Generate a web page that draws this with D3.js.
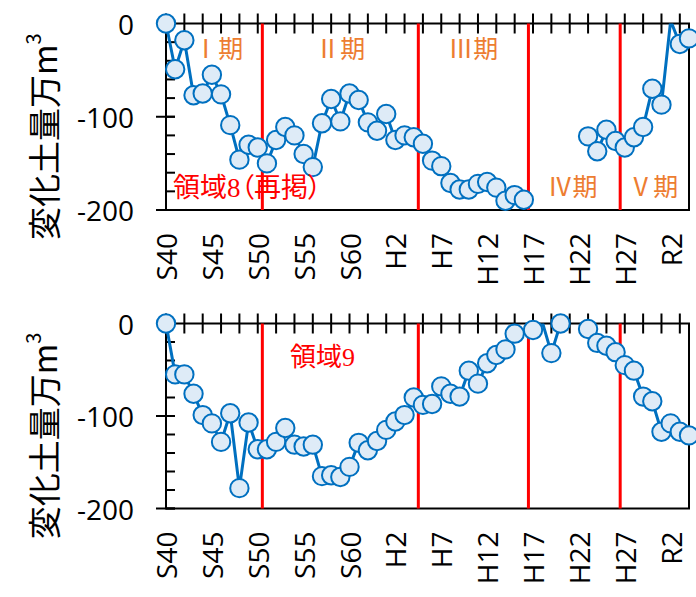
<!DOCTYPE html>
<html>
<head>
<meta charset="utf-8">
<script src="https://cdn.jsdelivr.net/npm/d3@7"></script>
<style>
body { margin: 0; background: #fff; }
text { font-family: "Open Sans", sans-serif; }
.jp { font-family: "Noto Sans CJK JP", sans-serif; font-feature-settings: "palt"; }
.mincho { font-family: "Liberation Serif", "Noto Sans CJK JP", serif; font-feature-settings: "palt"; }
</style>
</head>
<body>
<svg id="chart" width="696" height="597"></svg>
<script>
// years 1965 (S40) .. 2022 (R4)
const years = [1965,1966,1967,1968,1969,1970,1971,1972,1973,1974,
               1975,1976,1977,1978,1979,1980,1981,1982,1983,1984,
               1985,1986,1987,1988,1989,1990,1991,1992,1993,1994,
               1995,1996,1997,1998,1999,2000,2001,2002,2003,2004,
               2005,2006,2007,2008,2009,2010,2011,2012,2013,2014,
               2015,2016,2017,2018,2019,2020,2021,2022];

const labelYears = [1965,1970,1975,1980,1985,1990,1995,2000,2005,2010,2015,2020];
const labelNames = ["S40","S45","S50","S55","S60","H2","H7","H12","H17","H22","H27","R2"];

const periodBounds = [1975.5, 1992.5, 2004.5, 2014.5];
const periodNames = ["Ⅰ期","Ⅱ期","Ⅲ期","Ⅳ期","Ⅴ期"];

const yTicks = [0, -100, -200];

// 領域8 (再掲)
const area8 = [0,-49,-18,-77,-75,-55,-76,-109,-146,-130,
               -133,-150,-125,-111,-120,-140,-154,-107,-81,-105,
               -75,-82,-106,-115,-97,-125,-120,-122,-129,-147,
               -153,-171,-178,-178,-172,-170,-176,-190,-184,-189,
               null,null,null,null,null,null,-121,-137,-114,-126,
               -133,-122,-111,-70,-87,3,-22,-16];

// 領域9
const area9 = [0,-55,-55,-76,-99,-108,-128,-97,-178,-107,
               -136,-136,-128,-113,-131,-133,-131,-165,-164,-166,
               -155,-129,-137,-127,-115,-106,-99,-80,-88,-87,
               -68,-76,-79,-51,-65,-43,-34,-28,-11,null,
               -7,2,-32,0,null,null,-6,-21,-24,-31,
               -45,-51,-79,-84,-117,-108,-117,-121];

const blue = "#0070C0";
const orange = "#ED7D31";

const svg = d3.select("#chart");
const x = d3.scaleLinear().domain([1965, 2022]).range([166, 689]);

function panel(id, top, bottom, values) {
    const y = d3.scaleLinear().domain([-200, 0]).range([bottom, top]);
    const g = svg.append("g");

    g.append("clipPath").attr("id", "clip" + id)
        .append("rect")
        .attr("x", x.range()[0]).attr("y", top)
        .attr("width", x.range()[1] - x.range()[0]).attr("height", bottom - top);

    // frame
    g.append("rect")
        .attr("x", x.range()[0]).attr("y", top)
        .attr("width", x.range()[1] - x.range()[0]).attr("height", bottom - top)
        .attr("fill", "none").attr("stroke", "#000").attr("stroke-width", 2);

    // period boundaries
    g.selectAll(".bound").data(periodBounds).enter()
        .append("line")
        .attr("x1", d => x(d)).attr("x2", d => x(d))
        .attr("y1", top).attr("y2", bottom)
        .attr("stroke", "#FF0000").attr("stroke-width", 3);

    // y ticks
    g.selectAll(".minor").data(y.ticks(10)).enter()
        .append("line")
        .attr("x1", x.range()[0]).attr("x2", x.range()[0] + 9)
        .attr("y1", d => y(d)).attr("y2", d => y(d))
        .attr("stroke", "#000").attr("stroke-width", 2);
    g.selectAll(".major").data(yTicks).enter()
        .append("line")
        .attr("x1", x.range()[0] - 10).attr("x2", x.range()[0] + 9)
        .attr("y1", d => y(d)).attr("y2", d => y(d))
        .attr("stroke", "#000").attr("stroke-width", 2);
    g.selectAll(".ylab").data(yTicks).enter()
        .append("text")
        .attr("x", 134).attr("y", d => y(d))
        .attr("text-anchor", "end").attr("dominant-baseline", "central")
        .attr("font-size", 28)
        .text(d => d);

    // x ticks (every 2 years) crossing the 0 line
    g.selectAll(".xtick").data(years.filter(d => (d - 1965) % 2 == 0)).enter()
        .append("line")
        .attr("x1", d => x(d)).attr("x2", d => x(d))
        .attr("y1", y(0) - 10).attr("y2", y(0) + 10)
        .attr("stroke", "#000").attr("stroke-width", 2);
    g.selectAll(".xlab").data(labelYears).enter()
        .append("text")
        .attr("transform", d => `translate(${x(d)},${bottom + 23}) rotate(-90)`)
        .attr("text-anchor", "end").attr("dominant-baseline", "central")
        .attr("font-size", 28)
        .text((d, i) => labelNames[i]);

    // axis title
    const t = g.append("text")
        .attr("class", "jp")
        .attr("transform", `translate(43,${(top + bottom) / 2 + 20}) rotate(-90)`)
        .attr("text-anchor", "middle").attr("dominant-baseline", "central")
        .attr("font-size", 33)
        .text("変化土量万m");
    t.append("tspan").attr("font-size", 20).attr("dy", -11).text("3");

    // series
    const pts = years.map((yr, i) => ({yr, v: values[i]}));
    g.append("path")
        .datum(pts)
        .attr("clip-path", `url(#clip${id})`)
        .attr("fill", "none").attr("stroke", blue).attr("stroke-width", 3)
        .attr("d", d3.line().defined(d => d.v != null).x(d => x(d.yr)).y(d => y(d.v)));
    g.selectAll(".pt").data(pts.filter(d => d.v != null && d.v <= 0)).enter()
        .append("circle")
        .attr("cx", d => x(d.yr)).attr("cy", d => y(d.v)).attr("r", 9.2)
        .attr("fill", "#DEEBF7").attr("stroke", blue).attr("stroke-width", 2);

    return {g, y};
}

const p1 = panel(1, 23.5, 210, area8);
const p2 = panel(2, 323.5, 508.5, area9);

// period names on the upper panel
const periodPos = [[1970.7, -25], [1984, -25], [1998.5, -25], [2009.3, -173], [2018.1, -173]];
p1.g.selectAll(".period").data(periodNames).enter()
    .append("text")
    .attr("class", "jp")
    .attr("x", (d, i) => x(periodPos[i][0])).attr("y", (d, i) => p1.y(periodPos[i][1]))
    .attr("text-anchor", "middle").attr("dominant-baseline", "central")
    .attr("font-size", 25).attr("fill", orange)
    .text(d => d);

p1.g.append("text")
    .attr("class", "mincho")
    .attr("x", 173).attr("y", 197)
    .attr("font-size", 27).attr("fill", "#FF0000")
    .text("領域8（再掲）");

p2.g.append("text")
    .attr("class", "mincho")
    .attr("x", 290).attr("y", 366)
    .attr("font-size", 26).attr("fill", "#FF0000")
    .text("領域9");
</script>
</body>
</html>
